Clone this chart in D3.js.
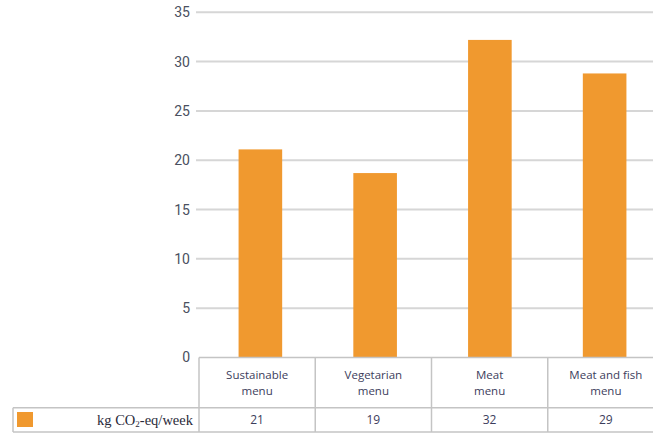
<!DOCTYPE html>
<html>
<head>
<meta charset="utf-8">
<script src="https://cdn.jsdelivr.net/npm/d3@7"></script>
<style>
  html, body { margin: 0; padding: 0; background: #fff; }
  svg { display: block; }
</style>
</head>
<body>
<svg id="chart" width="653" height="434"></svg>
<script>
// Weekly footprint per menu type
const categories = [["Sustainable", "menu"], ["Vegetarian", "menu"], ["Meat", "menu"], ["Meat and fish", "menu"]];
const values = [21.1, 18.7, 32.2, 28.8];
const yTicks = [0, 5, 10, 15, 20, 25, 30, 35];
const seriesName = "kg CO₂-eq/week";

const svg = d3.select("#chart");
const barColor = "#F0992F";
const gridColor = "#d6d6d6";
const tableColor = "#c4c4c4";
const textColor = "#3c3d5c";

const y = d3.scaleLinear().domain([0, 35]).range([357.5, 12.3]);
const keys = d3.range(categories.length);
const x = d3.scaleBand().domain(keys).range([203, 662]).paddingInner(0.62).paddingOuter(0.31);
const col = d3.scaleBand().domain(keys).range([199, 664]);

// Horizontal grid lines with value axis labels
const axis = d3.axisLeft(y).tickValues(yTicks).tickSize(0).tickPadding(6);
const gAxis = svg.append("g").attr("transform", "translate(196,0)").call(axis);
gAxis.select(".domain").remove();
gAxis.selectAll("text")
  .attr("font-family", "Roboto, 'DejaVu Sans Condensed', sans-serif")
  .attr("font-size", 14).attr("fill", "#4a5060");
svg.append("g").selectAll("line").data(yTicks.filter(d => d > 0)).join("line")
  .attr("x1", 196).attr("x2", 653)
  .attr("y1", d => y(d)).attr("y2", d => y(d))
  .attr("stroke", gridColor).attr("stroke-width", 2);

// Bars
svg.append("g").selectAll("rect").data(values).join("rect")
  .attr("x", (d, i) => x(i)).attr("width", x.bandwidth())
  .attr("y", d => y(d)).attr("height", d => y(0) - y(d))
  .attr("fill", barColor);

// Data table beneath the plot
const rowTop = y(0), rowMid = 407.7, rowBot = 432;
const t = svg.append("g").attr("stroke", tableColor).attr("stroke-width", 1.5);
t.append("line").attr("x1", col(0)).attr("x2", 653).attr("y1", rowTop).attr("y2", rowTop);
t.append("line").attr("x1", 13).attr("x2", 653).attr("y1", rowMid).attr("y2", rowMid);
t.append("line").attr("x1", 13).attr("x2", 653).attr("y1", rowBot).attr("y2", rowBot);
t.append("line").attr("x1", 13).attr("x2", 13).attr("y1", rowMid).attr("y2", rowBot);
t.selectAll("line.col").data(keys).join("line").attr("class", "col")
  .attr("x1", i => col(i)).attr("x2", i => col(i))
  .attr("y1", rowTop).attr("y2", rowBot);

// Category names, two lines per cell
svg.append("g").selectAll("g").data(categories).join("g")
  .each(function(lines, i) {
    const cx = col(i) + col.bandwidth() / 2;
    d3.select(this).selectAll("text").data(lines).join("text")
      .attr("x", cx).attr("y", (d, j) => 379 + j * 15.5)
      .attr("text-anchor", "middle")
      .attr("font-family", "'Open Sans', 'DejaVu Sans', sans-serif")
      .attr("font-size", 11.5).attr("fill", textColor)
      .text(d => d);
  });

// Values row
svg.append("g").selectAll("text").data(values).join("text")
  .attr("x", (d, i) => col(i) + col.bandwidth() / 2)
  .attr("y", 423.5)
  .attr("text-anchor", "middle")
  .attr("font-family", "'Open Sans', 'DejaVu Sans', sans-serif")
  .attr("font-size", 12).attr("fill", textColor)
  .text(d => d3.format(".0f")(d));

// Legend cell
svg.append("rect").attr("x", 17).attr("y", 412).attr("width", 16).attr("height", 15).attr("fill", barColor);
const leg = svg.append("text")
  .attr("x", 193).attr("y", 425)
  .attr("text-anchor", "end")
  .attr("font-family", "'Liberation Serif', 'DejaVu Serif', serif")
  .attr("font-size", 14.5).attr("fill", "#2a2a3a");
const parts = seriesName.split("₂");
leg.append("tspan").text(parts[0]);
leg.append("tspan").attr("font-size", 9).attr("dy", 2).text("2");
leg.append("tspan").attr("dy", -2).text(parts[1]);
</script>
</body>
</html>
